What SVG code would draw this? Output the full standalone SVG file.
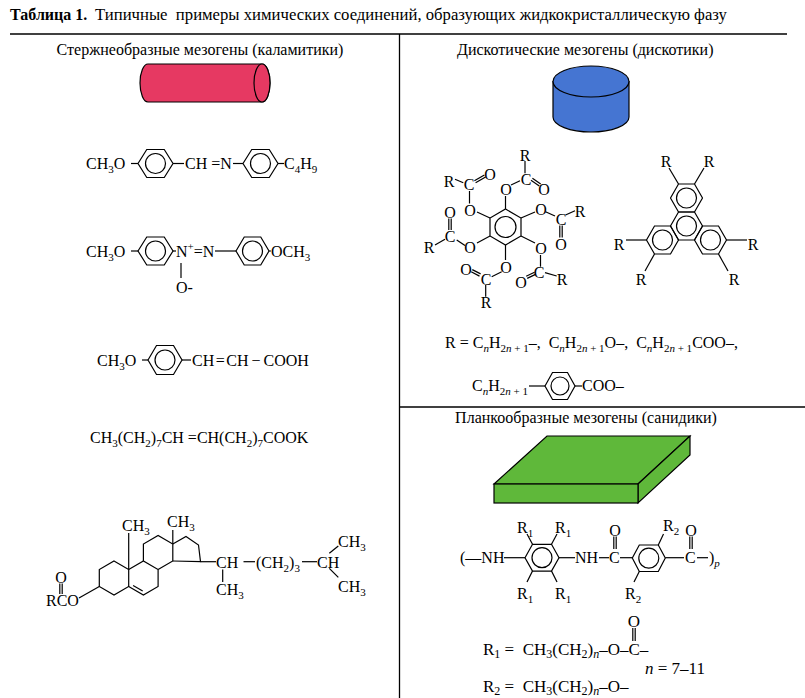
<svg xmlns="http://www.w3.org/2000/svg" width="805" height="698" viewBox="0 0 805 698">
<style>
.t{font-family:"Liberation Serif","Times New Roman",serif;font-size:16px;fill:#000}
.m{text-anchor:middle}
.s{font-size:11px}
.i{font-style:italic}
.big{font-size:17px}
.big .s{font-size:12px}
.b{stroke:#000;stroke-width:1.2;fill:none}
.frame{stroke:#000;stroke-width:1.3;fill:none}
.shape{stroke:#000;stroke-width:1.2}
</style>
<rect width="805" height="698" fill="#fff"/>

<g id="title">
<text class="t" x="10" y="20"><tspan font-weight="bold">Таблица 1.</tspan><tspan x="95" font-size="16.7">Типичные&#160; примеры химических соединений, образующих жидкокристаллическую фазу</tspan></text>
</g>

<g id="table-lines">
<line class="frame" x1="10" y1="34" x2="787" y2="34"/>
<line class="frame" x1="399.5" y1="34" x2="399.5" y2="698"/>
<line class="frame" x1="399.5" y1="407" x2="805" y2="407"/>
</g>

<!-- LEFT COLUMN -->
<g id="calamitic-header">
<text class="t m" x="200" y="55">Стержнеобразные мезогены (каламитики)</text>
<path class="shape" fill="#e63962" d="M148,64 L262,64 A8,19 0 0 1 262,102 L148,102 A8,19 0 0 1 148,64 Z"/>
<ellipse class="shape" fill="#e63962" cx="262" cy="83" rx="8" ry="19"/>
</g>

<g id="mol-mbba">
<text class="t" x="86" y="169">CH<tspan class="s" dy="4">3</tspan><tspan dy="-4">O</tspan></text>
<line class="b" x1="131" y1="163.5" x2="138" y2="163.5"/>
<polygon class="b" points="138,163.5 146.75,149.5 164.25,149.5 173,163.5 164.25,177.5 146.75,177.5"/>
<circle class="b" cx="155.5" cy="163.5" r="10"/>
<line class="b" x1="173" y1="163.5" x2="184" y2="163.5"/>
<text class="t" x="185" y="169">CH =N</text>
<line class="b" x1="233" y1="163.5" x2="243" y2="163.5"/>
<polygon class="b" points="243,163.5 251.75,149.5 269.25,149.5 278,163.5 269.25,177.5 251.75,177.5"/>
<circle class="b" cx="260.5" cy="163.5" r="10"/>
<line class="b" x1="278" y1="163.5" x2="284" y2="163.5"/>
<text class="t" x="284" y="169">C<tspan class="s" dy="4">4</tspan><tspan dy="-4">H</tspan><tspan class="s" dy="4">9</tspan></text>
</g>

<g id="mol-paa">
<text class="t" x="86" y="257">CH<tspan class="s" dy="4">3</tspan><tspan dy="-4">O</tspan></text>
<line class="b" x1="131" y1="251" x2="138" y2="251"/>
<polygon class="b" points="138,251 146.75,237 164.25,237 173,251 164.25,265 146.75,265"/>
<circle class="b" cx="155.5" cy="251" r="10"/>
<line class="b" x1="173" y1="251" x2="176" y2="251"/>
<text class="t" x="176" y="257">N<tspan class="s" dy="-7">+</tspan><tspan dy="7">=N</tspan></text>
<line class="b" x1="215" y1="251" x2="236" y2="251"/>
<polygon class="b" points="236,251 244.25,237 260.75,237 269,251 260.75,265 244.25,265"/>
<circle class="b" cx="252.5" cy="251" r="10"/>
<line class="b" x1="269" y1="251" x2="271" y2="251"/>
<text class="t" x="271" y="257">OCH<tspan class="s" dy="4">3</tspan></text>
<line class="b" x1="181" y1="263" x2="181" y2="278"/>
<text class="t" x="176" y="293">O-</text>
</g>

<g id="mol-cinnamic">
<text class="t" x="97" y="366">CH<tspan class="s" dy="4">3</tspan><tspan dy="-4">O</tspan></text>
<line class="b" x1="142" y1="360" x2="148" y2="360"/>
<polygon class="b" points="148,360 156.5,345.5 173.5,345.5 182,360 173.5,374.5 156.5,374.5"/>
<circle class="b" cx="165" cy="360" r="10"/>
<line class="b" x1="182" y1="360" x2="191" y2="360"/>
<text class="t" x="192" y="366">CH<tspan dx="1.5">=</tspan><tspan dx="1.5">CH</tspan><tspan dx="3">−</tspan><tspan dx="3">COOH</tspan></text>
</g>

<g id="mol-oleate">
<text class="t" x="90" y="443">CH<tspan class="s" dy="4">3</tspan><tspan dy="-4">(CH</tspan><tspan class="s" dy="4">2</tspan><tspan dy="-4">)</tspan><tspan class="s" dy="4">7</tspan><tspan dy="-4">CH =CH(CH</tspan><tspan class="s" dy="4">2</tspan><tspan dy="-4">)</tspan><tspan class="s" dy="4">7</tspan><tspan dy="-4">COOK</tspan></text>
</g>

<g id="mol-cholesteryl">
<polygon class="b" points="114,561 128.7,569.5 128.7,586.5 114,595 99.3,586.5 99.3,569.5"/>
<polyline class="b" points="128.7,569.5 143.4,561 158.1,569.5 158.1,586.5 143.4,595 128.7,586.5"/>
<line class="b" x1="133.1" y1="585.6" x2="142.7" y2="591.1"/>
<polyline class="b" points="143.4,561 143.4,544 158.1,535.5 172.8,544 172.8,561 158.1,569.5"/>
<polyline class="b" points="172.8,544 186,536.5 198.5,545 200.5,561.7 172.8,561"/>
<line class="b" x1="128.7" y1="569.5" x2="128.7" y2="533"/>
<text class="t" x="122" y="531">CH<tspan class="s" dy="4">3</tspan></text>
<line class="b" x1="172.8" y1="544" x2="172.8" y2="530"/>
<text class="t" x="167" y="527">CH<tspan class="s" dy="4">3</tspan></text>
<line class="b" x1="200.5" y1="561.7" x2="216" y2="561.7"/>
<text class="t" x="216" y="568">CH</text>
<line class="b" x1="222.7" y1="569.5" x2="222.7" y2="582"/>
<text class="t" x="216" y="595">CH<tspan class="s" dy="4">3</tspan></text>
<line class="b" x1="243.5" y1="561.7" x2="255" y2="561.7"/>
<text class="t" x="256" y="568">(CH<tspan class="s" dy="4">2</tspan><tspan dy="-4">)</tspan><tspan class="s" dy="4">3</tspan></text>
<line class="b" x1="302" y1="561.7" x2="317" y2="561.7"/>
<text class="t" x="317" y="568">CH</text>
<line class="b" x1="329.3" y1="553.3" x2="338.3" y2="546"/>
<line class="b" x1="329.3" y1="568.3" x2="338.3" y2="577.3"/>
<text class="t" x="338" y="546.5">CH<tspan class="s" dy="4">3</tspan></text>
<text class="t" x="338" y="591.5">CH<tspan class="s" dy="4">3</tspan></text>
<text class="t m" x="61" y="582.5">O</text>
<line class="b" x1="59.8" y1="583.5" x2="59.8" y2="594"/>
<line class="b" x1="62.2" y1="583.5" x2="62.2" y2="594"/>
<text class="t" x="46" y="606">RCO</text>
<line class="b" x1="79" y1="598" x2="99.3" y2="586.5"/>
</g>

<!-- RIGHT COLUMN -->
<g id="discotic-header">
<text class="t" x="457" y="55" font-size="16.6">Дискотические мезогены (дискотики)</text>
<path class="shape" fill="#4575d2" d="M553,81.5 L553,117 A38,15 0 0 0 629,117 L629,81.5 Z"/>
<ellipse class="shape" fill="#4575d2" cx="591" cy="81.5" rx="38" ry="15.5"/>
</g>

<g id="mol-hexaester">
<polygon class="b" points="505.5,209 521,218 521,236 505.5,245 490,236 490,218"/>
<circle class="b" cx="505.5" cy="227" r="10.5"/>
<line class="b" x1="505.5" y1="209" x2="505.5" y2="196"/>
<line class="b" x1="490" y1="218" x2="477" y2="212"/>
<line class="b" x1="521" y1="218" x2="535" y2="212"/>
<line class="b" x1="490" y1="236" x2="477" y2="243"/>
<line class="b" x1="521" y1="236" x2="535" y2="243"/>
<line class="b" x1="505.5" y1="245" x2="505.5" y2="260"/>
<g class="t m">
<text x="506" y="194.5">O</text>
<text x="470" y="215.5">O</text>
<text x="541" y="214.5">O</text>
<text x="470" y="253">O</text>
<text x="541" y="254">O</text>
<text x="506" y="273">O</text>
</g>
<line class="b" x1="469.5" y1="203.5" x2="469.5" y2="191"/>
<text class="t m" x="469" y="189.5">C</text>
<text class="t m" x="449" y="186.5">R</text>
<line class="b" x1="455" y1="179.3" x2="463.3" y2="182.7"/>
<text class="t m" x="490" y="179.5">O</text>
<line class="b" x1="474.4" y1="180.7" x2="484.4" y2="175"/>
<line class="b" x1="475.6" y1="182.7" x2="485.6" y2="177"/>
<line class="b" x1="511" y1="185" x2="520" y2="180.7"/>
<text class="t m" x="526" y="184.5">C</text>
<text class="t m" x="525" y="161">R</text>
<line class="b" x1="525" y1="161" x2="525" y2="173.3"/>
<text class="t m" x="544" y="194.5">O</text>
<line class="b" x1="532.4" y1="178.3" x2="540.7" y2="184"/>
<line class="b" x1="531" y1="180.3" x2="539.3" y2="186"/>
<line class="b" x1="545.5" y1="211.7" x2="555" y2="216"/>
<text class="t m" x="561" y="224.5">C</text>
<text class="t m" x="580" y="216.5">R</text>
<line class="b" x1="565.5" y1="215" x2="575" y2="210.7"/>
<text class="t m" x="561" y="249.5">O</text>
<line class="b" x1="559.8" y1="225.5" x2="559.8" y2="237.5"/>
<line class="b" x1="562.2" y1="225.5" x2="562.2" y2="237.5"/>
<line class="b" x1="540.5" y1="255" x2="540.5" y2="266.7"/>
<text class="t m" x="539" y="278">C</text>
<text class="t m" x="562" y="284.5">R</text>
<line class="b" x1="545" y1="272.7" x2="556.7" y2="276"/>
<text class="t m" x="521" y="288">O</text>
<line class="b" x1="526.2" y1="276.2" x2="534.5" y2="272.2"/>
<line class="b" x1="527.2" y1="278.4" x2="535.5" y2="274.4"/>
<line class="b" x1="501.7" y1="271.7" x2="491.7" y2="276.7"/>
<text class="t m" x="486" y="284.5">C</text>
<text class="t m" x="486" y="308">R</text>
<line class="b" x1="485.7" y1="285" x2="485.7" y2="296.7"/>
<text class="t m" x="466" y="274.5">O</text>
<line class="b" x1="472.3" y1="269.6" x2="480.6" y2="273.9"/>
<line class="b" x1="471.2" y1="271.8" x2="479.5" y2="276.1"/>
<line class="b" x1="465" y1="245.5" x2="456.7" y2="240"/>
<text class="t m" x="450" y="241.5">C</text>
<text class="t m" x="429" y="253">R</text>
<line class="b" x1="435" y1="245" x2="445" y2="239.3"/>
<text class="t m" x="450" y="218">O</text>
<line class="b" x1="448.8" y1="218.5" x2="448.8" y2="230"/>
<line class="b" x1="451.2" y1="218.5" x2="451.2" y2="230"/>
</g>

<g id="mol-triphenylene">
<polygon class="b" points="670.5,198 678.5,184 694.5,184 702.5,198 694.5,212 678.5,212"/>
<polygon class="b" points="670.5,226 678.5,212 694.5,212 702.5,226 694.5,240 678.5,240"/>
<polygon class="b" points="646.5,240 654.5,226 670.5,226 678.5,240 670.5,254 654.5,254"/>
<polygon class="b" points="694.5,240 702.5,226 718.5,226 726.5,240 718.5,254 702.5,254"/>
<circle class="b" cx="686.5" cy="198" r="10"/>
<circle class="b" cx="686.5" cy="226" r="10"/>
<circle class="b" cx="662.5" cy="240" r="10"/>
<circle class="b" cx="710.5" cy="240" r="10"/>
<line class="b" x1="678.5" y1="184" x2="669" y2="168"/>
<line class="b" x1="694.5" y1="184" x2="704" y2="168"/>
<line class="b" x1="646.5" y1="240" x2="626" y2="240"/>
<line class="b" x1="654.5" y1="254" x2="645" y2="271"/>
<line class="b" x1="726.5" y1="240" x2="747" y2="240"/>
<line class="b" x1="718.5" y1="254" x2="728" y2="271"/>
<g class="t m">
<text x="666" y="167">R</text>
<text x="709" y="167">R</text>
<text x="619" y="250">R</text>
<text x="641" y="285">R</text>
<text x="753" y="250">R</text>
<text x="734" y="285">R</text>
</g>
</g>

<g id="r-definition">
<text class="t" x="445" y="348">R = C<tspan class="s i" dy="4">n</tspan><tspan dy="-4">H</tspan><tspan class="s" dy="4">2<tspan class="i">n</tspan> + 1</tspan><tspan dy="-4">–,&#160; C</tspan><tspan class="s i" dy="4">n</tspan><tspan dy="-4">H</tspan><tspan class="s" dy="4">2<tspan class="i">n</tspan> + 1</tspan><tspan dy="-4">O–,&#160; C</tspan><tspan class="s i" dy="4">n</tspan><tspan dy="-4">H</tspan><tspan class="s" dy="4">2<tspan class="i">n</tspan> + 1</tspan><tspan dy="-4">COO–,</tspan></text>
<text class="t" x="472" y="391">C<tspan class="s i" dy="4">n</tspan><tspan dy="-4">H</tspan><tspan class="s" dy="4">2<tspan class="i">n</tspan> + 1</tspan></text>
<line class="b" x1="529" y1="386" x2="545" y2="386"/>
<polygon class="b" points="545,386 552.5,372.5 567.5,372.5 575,386 567.5,399.5 552.5,399.5"/>
<circle class="b" cx="560" cy="386" r="9"/>
<line class="b" x1="575" y1="386" x2="582" y2="386"/>
<text class="t" x="582" y="391">COO–</text>
</g>

<g id="sanidic-header">
<text class="t m" x="586" y="423">Планкообразные мезогены (санидики)</text>
<polygon class="shape" fill="#5fb83a" points="494,484 547,436 690,436 638,484"/>
<polygon class="shape" fill="#5fb83a" points="638,484 690,436 690,455 638,503"/>
<rect class="shape" fill="#5fb83a" x="494" y="484" width="144" height="19"/>
</g>

<g id="mol-polyamide">
<text class="t" x="460" y="563">(—NH</text>
<line class="b" x1="504" y1="557.7" x2="525" y2="557.7"/>
<polygon class="b" points="525,557.7 532.5,544.3 551.5,544.3 559,557.7 551.5,571.1 532.5,571.1"/>
<circle class="b" cx="542" cy="557.7" r="10"/>
<line class="b" x1="532.5" y1="544.3" x2="527" y2="534"/>
<line class="b" x1="551.5" y1="544.3" x2="557" y2="534"/>
<line class="b" x1="532.5" y1="571.1" x2="527" y2="582"/>
<line class="b" x1="551.5" y1="571.1" x2="557" y2="582"/>
<text class="t" x="517" y="533">R<tspan class="s" dy="4">1</tspan></text>
<text class="t" x="555" y="533">R<tspan class="s" dy="4">1</tspan></text>
<text class="t" x="517" y="599">R<tspan class="s" dy="4">1</tspan></text>
<text class="t" x="555" y="599">R<tspan class="s" dy="4">1</tspan></text>
<line class="b" x1="559" y1="557.7" x2="575" y2="557.7"/>
<text class="t" x="575" y="563">NH</text>
<line class="b" x1="599" y1="557.7" x2="609" y2="557.7"/>
<text class="t" x="609" y="563">C</text>
<text class="t m" x="615" y="535.5">O</text>
<line class="b" x1="613.8" y1="536.5" x2="613.8" y2="549"/>
<line class="b" x1="616.2" y1="536.5" x2="616.2" y2="549"/>
<line class="b" x1="620" y1="557.7" x2="632.3" y2="557.7"/>
<polygon class="b" points="632.3,558 639.3,545 658.3,545 665.3,558 658.3,571.5 639.3,571.5"/>
<circle class="b" cx="648.8" cy="558.2" r="10"/>
<line class="b" x1="658.3" y1="545" x2="663.5" y2="534"/>
<text class="t" x="663" y="531">R<tspan class="s" dy="4">2</tspan></text>
<line class="b" x1="639.3" y1="571.5" x2="634" y2="582"/>
<text class="t" x="625" y="599">R<tspan class="s" dy="4">2</tspan></text>
<line class="b" x1="665.3" y1="557.7" x2="684" y2="557.7"/>
<text class="t" x="685" y="563">C</text>
<text class="t m" x="691" y="535.5">O</text>
<line class="b" x1="689.8" y1="536.5" x2="689.8" y2="549"/>
<line class="b" x1="692.2" y1="536.5" x2="692.2" y2="549"/>
<line class="b" x1="697" y1="557.7" x2="708" y2="557.7"/>
<text class="t" x="709" y="563">)<tspan class="s i" dy="4">p</tspan></text>
</g>

<g id="r1-r2-definition">
<text class="t big" x="483" y="655">R<tspan class="s" dy="3">1</tspan><tspan dy="-3">&#160;=&#160; CH</tspan><tspan class="s" dy="3">3</tspan><tspan dy="-3">(CH</tspan><tspan class="s" dy="3">2</tspan><tspan dy="-3">)</tspan><tspan class="s i" dy="3">n</tspan><tspan dy="-3">–O–C–</tspan></text>
<text class="t big m" x="634" y="627">O</text>
<line class="b" x1="632.8" y1="628" x2="632.8" y2="641"/>
<line class="b" x1="635.2" y1="628" x2="635.2" y2="641"/>
<text class="t big" x="645" y="674"><tspan class="i">n</tspan> = 7–11</text>
<text class="t big" x="483" y="692">R<tspan class="s" dy="3">2</tspan><tspan dy="-3">&#160;=&#160; CH</tspan><tspan class="s" dy="3">3</tspan><tspan dy="-3">(CH</tspan><tspan class="s" dy="3">2</tspan><tspan dy="-3">)</tspan><tspan class="s i" dy="3">n</tspan><tspan dy="-3">–O–</tspan></text>
</g>
</svg>
